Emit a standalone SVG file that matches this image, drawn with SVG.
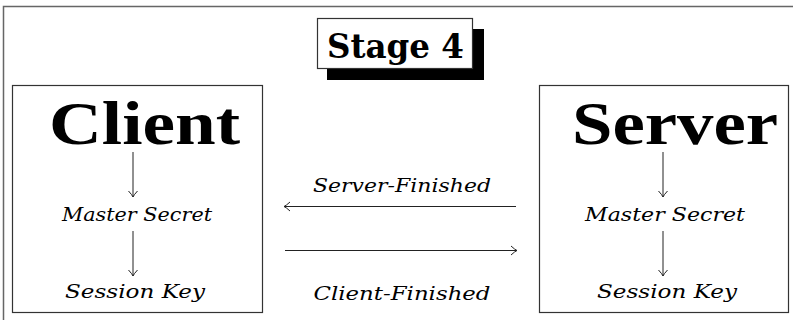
<svg xmlns="http://www.w3.org/2000/svg" width="793" height="320" viewBox="0 0 793 320">
<defs>
<style>
.frame{fill:none;stroke:#666;stroke-width:1.5}
.box{fill:#fff;stroke:#333;stroke-width:1.2}
text{font-family:"DejaVu Serif","Liberation Serif",serif;fill:#000}
.big{font-family:"Liberation Serif","Times New Roman",serif;font-weight:bold;font-size:62px}
.it{font-style:italic;font-size:19px}
.title{font-weight:bold;font-size:33px}
.arr{stroke:#222;stroke-width:1;fill:none;marker-end:url(#tip)}
</style>
<marker id="tip" markerUnits="userSpaceOnUse" markerWidth="14" markerHeight="14" viewBox="-8 -7 10 14" refX="0" refY="0" orient="auto">
<path d="M-6,-4.5 Q-2,-0.8 0,0 Q-2,0.8 -6,4.5" fill="none" stroke="#222" stroke-width="1"/>
</marker>
</defs>
<rect width="793" height="320" fill="#fff"/>
<rect class="frame" x="3.5" y="6.5" width="820" height="330"/>
<g id="stage">
<rect x="327" y="29" width="157" height="51" fill="#000"/>
<rect class="box" x="317.5" y="18.5" width="155" height="50"/>
<text class="title" x="327" y="58" textLength="137" lengthAdjust="spacingAndGlyphs">Stage 4</text>
</g>
<g id="client">
<rect class="box" x="12.5" y="85.5" width="250" height="227"/>
<text class="big" x="49" y="144" textLength="191" lengthAdjust="spacingAndGlyphs">Client</text>
<text class="it" x="137" y="221" text-anchor="middle" textLength="150" lengthAdjust="spacingAndGlyphs">Master Secret</text>
<text class="it" x="135" y="298" text-anchor="middle" textLength="140" lengthAdjust="spacingAndGlyphs">Session Key</text>
</g>
<g id="server">
<rect class="box" x="539.5" y="85.5" width="249" height="227"/>
<text class="big" x="572" y="144" textLength="206" lengthAdjust="spacingAndGlyphs">Server</text>
<text class="it" x="665" y="221" text-anchor="middle" textLength="160" lengthAdjust="spacingAndGlyphs">Master Secret</text>
<text class="it" x="667" y="298" text-anchor="middle" textLength="140" lengthAdjust="spacingAndGlyphs">Session Key</text>
</g>
<g id="connectors">
<line class="arr" x1="133" y1="152" x2="133" y2="197"/>
<line class="arr" x1="133" y1="231" x2="133" y2="276"/>
<line class="arr" x1="663" y1="152" x2="663" y2="197"/>
<line class="arr" x1="663" y1="231" x2="663" y2="276"/>
<line class="arr" x1="516" y1="206.5" x2="284" y2="206.5"/>
<line class="arr" x1="285" y1="250.5" x2="517" y2="250.5"/>
<text class="it" x="402" y="192" text-anchor="middle" textLength="178" lengthAdjust="spacingAndGlyphs">Server-Finished</text>
<text class="it" x="402" y="300" text-anchor="middle" textLength="177" lengthAdjust="spacingAndGlyphs">Client-Finished</text>
</g>
</svg>
